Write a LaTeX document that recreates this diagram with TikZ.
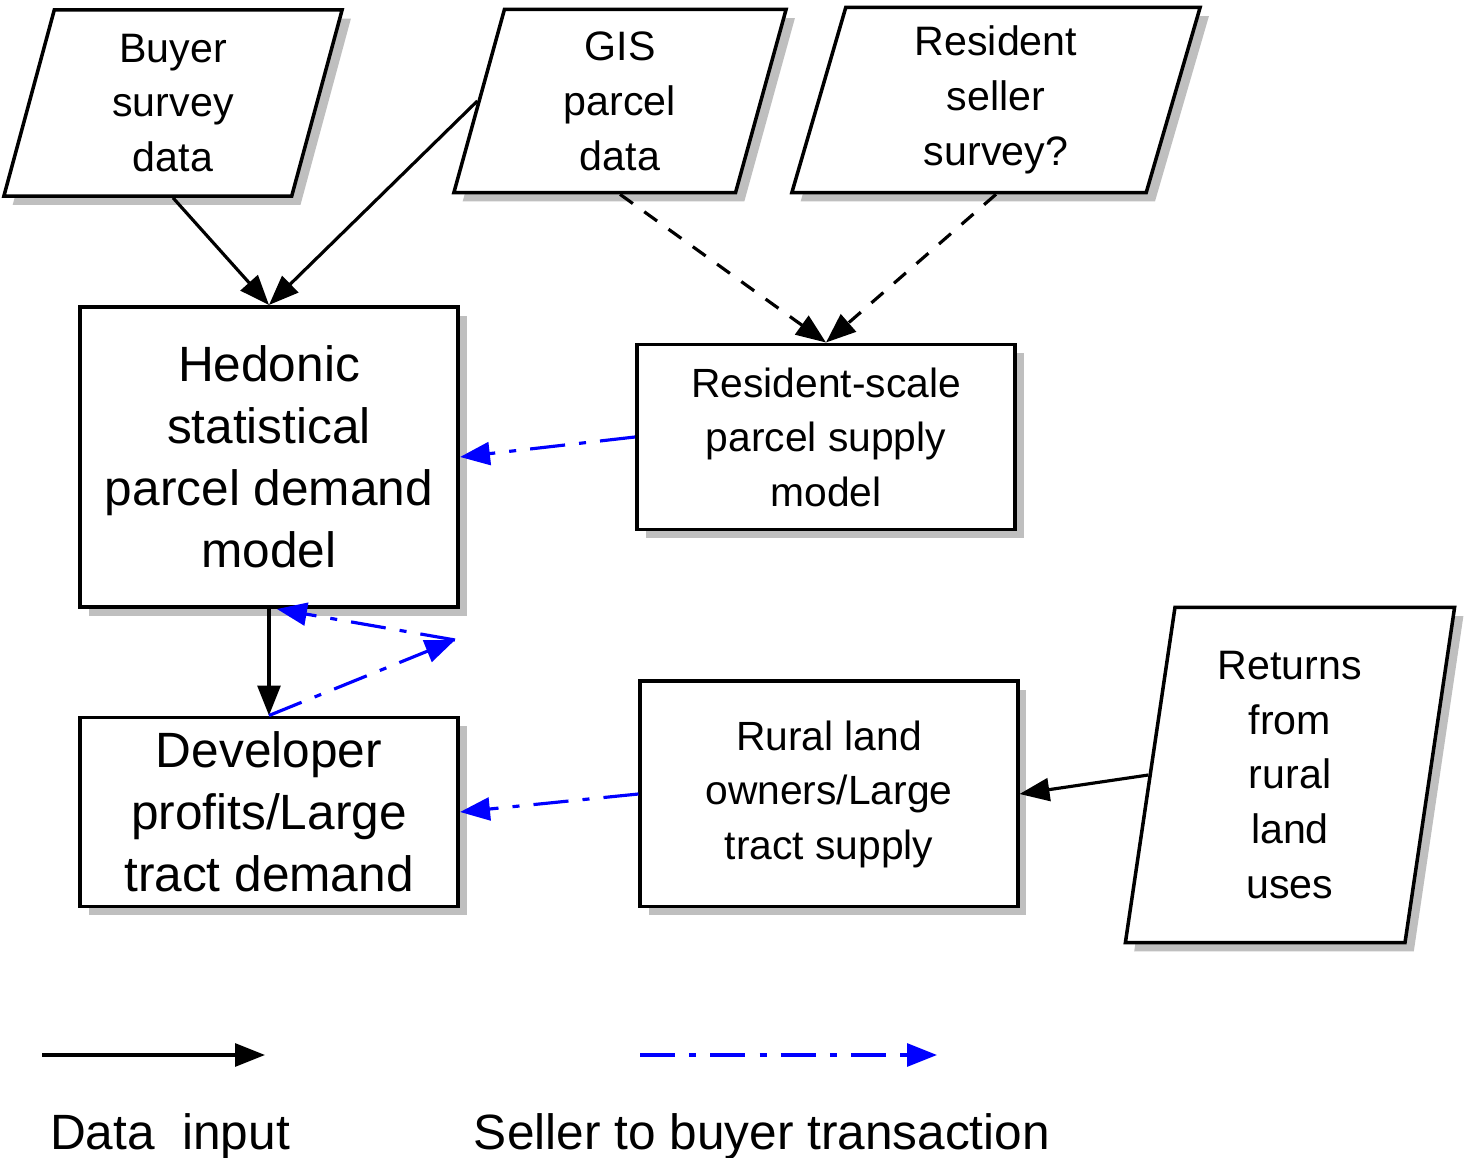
\documentclass[tikz,border=0pt]{standalone}
\usepackage{fontspec}
\setmainfont{Liberation Sans}
\usetikzlibrary{arrows.meta}
\usetikzlibrary{positioning}
\usetikzlibrary{shapes.geometric}
\usetikzlibrary{shadows}

\begin{document}
\begin{tikzpicture}[x=0.01cm,y=-0.01cm,>={Triangle[length=8.5pt,width=6.5pt]},
  box shadow/.style={drop shadow={shadow xshift=2.5pt,shadow yshift=-2.5pt,fill=black,opacity=0.25}},
  big model/.style={rectangle,draw,line width=1.1pt,fill=white,box shadow,align=center,
    inner sep=0pt,font=\fontsize{14.1}{17.6}\selectfont},
  small model/.style={big model,font=\fontsize{11.6}{15.5}\selectfont},
  data node/.style={trapezium,trapezium left angle=70,trapezium right angle=110,
    trapezium stretches body=true,draw,line width=1pt,fill=white,box shadow,align=center,
    inner sep=0pt,font=\fontsize{11.7}{15.6}\selectfont},
  input/.style={->,line width=0.9pt},
  input guess/.style={input,dash pattern=on 4.5pt off 4pt},
  sale/.style={->,blue,line width=0.9pt,dash pattern=on 10pt off 4pt on 2pt off 4pt}]

  \useasboundingbox (0,0) rectangle (1465,1158);

  % data sources
  \node[data node,minimum width=3.38cm,minimum height=1.86cm] (buyer) at (173,103) {Buyer\\survey\\data};
  \node[data node,minimum width=3.32cm,minimum height=1.83cm] (gis) at (620,101) {GIS\\parcel\\data};
  \node[data node,minimum width=4.08cm,minimum height=1.85cm] (seller) at (996,100) {Resident\\seller\\survey?};
  \node[data node,trapezium left angle=78.7,trapezium right angle=101.3,
    minimum width=3.29cm,minimum height=3.35cm] (returns) at (1290,775) {Returns\\from\\rural\\land\\uses};

  % models
  \node[big model,minimum width=3.78cm,minimum height=3cm] (hedonic) at (269,457) {Hedonic\\statistical\\parcel demand\\model};
  \node[small model,minimum width=3.78cm,minimum height=1.85cm] (rscale) at (826,437) {Resident-scale\\parcel supply\\model};
  \node[big model,minimum width=3.78cm,minimum height=1.89cm] (developer) at (269,812) {Developer\\profits/Large\\tract demand};
  \node[small model,minimum width=3.77cm,minimum height=2.25cm] (rural) at (829,794) {Rural land\\owners/Large\\tract supply};
  \coordinate (turn) at (455,640);

  % connectors
  \draw[input] (buyer.south) -- (hedonic.north);
  \draw[input] (gis.left side) -- (hedonic.north);
  \draw[input guess] (gis.south) -- (rscale.north);
  \draw[input guess] (seller.south) -- (rscale.north);
  \draw[sale] (rscale.west) -- (hedonic.east);
  \draw[input] (hedonic.south) -- (developer.north);
  \draw[sale] (developer.north) -- (turn);
  \draw[sale] (turn) -- (hedonic.-87);
  \draw[sale] (rural.west) -- (developer.east);
  \draw[input] (returns.left side) -- (rural.east);

  % legend
  \coordinate (key1a) at (42,1055);
  \coordinate (key1b) at (265,1055);
  \coordinate (key2a) at (640,1055);
  \coordinate (key2b) at (937,1055);
  \draw[input] (key1a) -- (key1b);
  \draw[sale] (key2a) -- (key2b);
  \node[anchor=base,font=\fontsize{14.1}{17.6}\selectfont] (key1) at (170,1150) {Data\ \ input};
  \node[anchor=base,font=\fontsize{14.1}{17.6}\selectfont] (key2) at (762,1150) {Seller to buyer transaction};
\end{tikzpicture}
\end{document}
